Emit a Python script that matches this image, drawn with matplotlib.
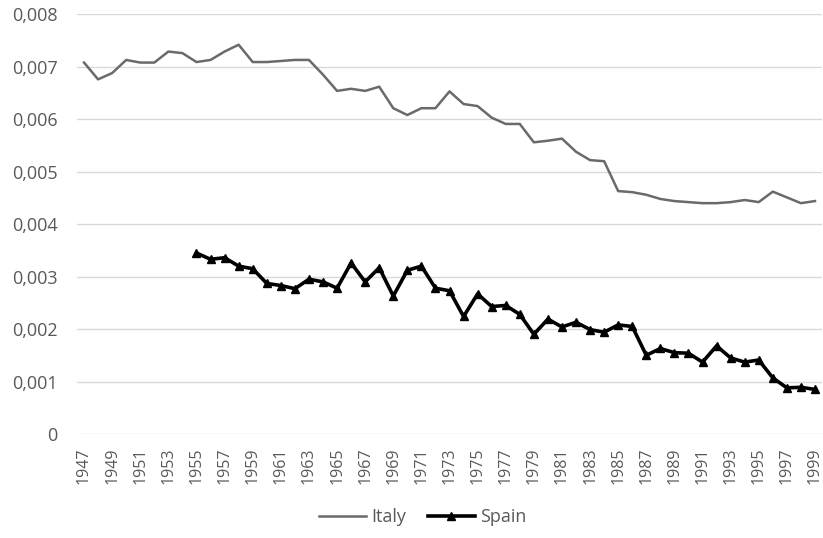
import numpy as np
import matplotlib.pyplot as plt
from matplotlib.ticker import FuncFormatter

years_italy = list(range(1947, 2000))
italy = [0.00708, 0.00676, 0.00688, 0.00713, 0.00708, 0.00708, 0.00729, 0.00726,
         0.00709, 0.00713, 0.00729, 0.00742, 0.00709, 0.00709, 0.00711, 0.00713,
         0.00713, 0.00685, 0.00654, 0.00658, 0.00654, 0.00662, 0.00621, 0.00608,
         0.00621, 0.00621, 0.00653, 0.00629, 0.00625, 0.00603, 0.00591, 0.00591,
         0.00556, 0.00559, 0.00563, 0.00538, 0.00522, 0.00520, 0.00463, 0.00461,
         0.00456, 0.00448, 0.00444, 0.00442, 0.00440, 0.00440, 0.00442, 0.00446,
         0.00442, 0.00462, 0.00451, 0.00440, 0.00444]

years_spain = list(range(1955, 2000))
spain = [0.00345, 0.00333, 0.00336, 0.00320, 0.00315, 0.00287, 0.00283, 0.00277,
         0.00295, 0.00290, 0.00278, 0.00326, 0.00290, 0.00317, 0.00263, 0.00312,
         0.00320, 0.00278, 0.00273, 0.00224, 0.00267, 0.00243, 0.00245, 0.00228,
         0.00190, 0.00219, 0.00204, 0.00213, 0.00199, 0.00194, 0.00208, 0.00205,
         0.00150, 0.00163, 0.00155, 0.00154, 0.00137, 0.00168, 0.00145, 0.00137,
         0.00141, 0.00107, 0.00088, 0.00089, 0.00085]

year_ticks = list(range(1947, 2000, 2))

plt.rcParams['font.family'] = ['Open Sans', 'DejaVu Sans']
label_color = '#595959'

fig = plt.figure(figsize=(8.23, 5.38), dpi=100)
ax_h = (434 - 14.3) / 538
ax = fig.add_axes([77 / 823, 1 - 434 / 538, 745 / 823, ax_h])

ax.plot(years_italy, italy, color='#6a6a6a', lw=1.8, label='Italy')
ax.plot(years_spain, spain, color='black', lw=2.6, marker='^', markersize=6,
        label='Spain')

ax.set_xlim(1946.5, 1999.5)
ax.set_ylim(0, 0.008)
ax.set_yticks(np.arange(0, 0.0081, 0.001))


def comma_fmt(v, pos):
    if abs(v) < 1e-12:
        return '0'
    return f'{v:.3f}'.replace('.', ',')


ax.yaxis.set_major_formatter(FuncFormatter(comma_fmt))
ax.set_xticks(year_ticks)
ax.set_xticklabels([str(y) for y in year_ticks], rotation=90)

ax.grid(axis='y', color='#d9d9d9', lw=1)
ax.set_axisbelow(True)
for s in ax.spines.values():
    s.set_visible(False)
ax.tick_params(axis='both', length=0, colors=label_color)
ax.tick_params(axis='y', labelsize=13, pad=14)
ax.tick_params(axis='x', labelsize=11.5, pad=10)

ax.legend(loc='center', bbox_to_anchor=(0.5 - 27 / 745, -83 / (ax_h * 538)),
          ncol=2, frameon=False, fontsize=13, labelcolor=label_color,
          handlelength=2.6, columnspacing=1.2, handletextpad=0.3)

fig.savefig('out.png', dpi=100)
